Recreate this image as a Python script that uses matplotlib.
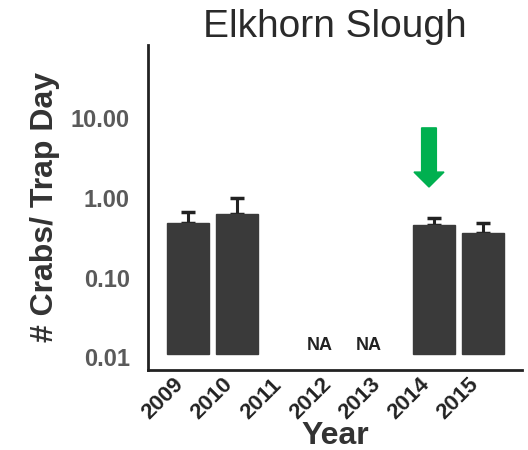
import numpy as np
import matplotlib
matplotlib.use("Agg")
import matplotlib.pyplot as plt
from matplotlib.patches import FancyArrow
from matplotlib.ticker import FixedLocator, FixedFormatter, NullLocator

plt.rcParams['font.family'] = ['Liberation Sans', 'DejaVu Sans']

# crabs per trap day, Elkhorn Slough
years = ["2009", "2010", "2011", "2012", "2013", "2014", "2015"]
means = [0.49, 0.62, np.nan, np.nan, np.nan, 0.46, 0.36]
upper = [0.67, 0.99, np.nan, np.nan, np.nan, 0.56, 0.48]
not_sampled = ["2012", "2013"]
highlight = "2014"

y_ticks = [0.01, 0.1, 1, 10]
y_labels = ["0.01", "0.10", "1.00", "10.00"]

base = 0.011
bar_color = "#3a3a3a"

fig = plt.figure(figsize=(5.28, 4.5), dpi=100)
ax = fig.add_axes([148 / 528, 1 - 370 / 450, (522 - 148) / 528, (370 - 45) / 450])

x = np.arange(len(years))
m = np.array(means)
up = np.array(upper)
has = ~np.isnan(m)

ax.bar(x[has], m[has] - base, bottom=base, width=0.84, color=bar_color,
       edgecolor=bar_color, zorder=2)
ax.errorbar(x[has], m[has], yerr=[np.zeros(has.sum()), (up - m)[has]],
            fmt="none", ecolor="#222222", elinewidth=2.2, capsize=5, capthick=2.5, zorder=1)

for yr in not_sampled:
    i = years.index(yr)
    ax.text(i - 0.32, 0.0142, "NA", ha="center", va="center", fontsize=13,
            fontweight="bold", color="#222222")

ax.set_yscale("log")
ax.set_ylim(0.0069, 83)
ax.set_xlim(-0.81, 6.79)
ax.yaxis.set_major_locator(FixedLocator(y_ticks))
ax.yaxis.set_major_formatter(FixedFormatter(y_labels))
ax.yaxis.set_minor_locator(NullLocator())
ax.tick_params(axis="y", length=0, pad=13, labelsize=17, labelcolor="#5a5a5a")
for t in ax.get_yticklabels():
    t.set_fontweight("bold")

ax.set_xticks(x)
ax.set_xticklabels(years, rotation=45, ha="right", fontsize=16,
                   fontweight="bold", color="#222222")
ax.tick_params(axis="x", length=0, pad=3)

for side in ["top", "right"]:
    ax.spines[side].set_visible(False)
for side in ["left", "bottom"]:
    ax.spines[side].set_linewidth(2)
    ax.spines[side].set_color("#222222")

ax.set_title("Elkhorn Slough", fontsize=28, color="#2a2a2a", pad=3)
ax.set_ylabel("# Crabs/ Trap Day", fontsize=23, fontweight="bold",
              color="#333333", labelpad=8)
ax.set_xlabel("Year", fontsize=23, fontweight="bold", color="#333333", labelpad=-2)

# green arrow pointing at the 2014 bar
hx = years.index(highlight) - 0.1
arrow = FancyArrow(hx, 0.745, 0, -0.182, width=0.3, head_width=0.61,
                   head_length=0.046, length_includes_head=True,
                   color="#00b050", transform=ax.get_xaxis_transform(),
                   clip_on=False, zorder=3)
ax.add_patch(arrow)

fig.savefig("out.png", dpi=100)
